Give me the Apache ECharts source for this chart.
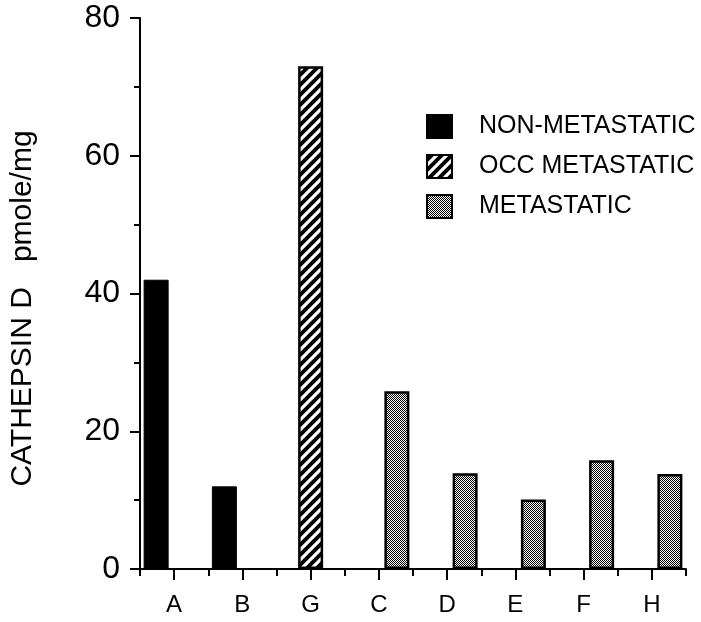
<!DOCTYPE html>
<html>
<head>
<meta charset="utf-8">
<script src="https://cdn.jsdelivr.net/npm/echarts@6/dist/echarts.min.js"></script>
<style>
html,body{margin:0;padding:0;background:#fff;}
#chart{width:701px;height:622px;}
</style>
</head>
<body>
<div id="chart"></div>
<script>
var categories = ['A', 'B', 'G', 'C', 'D', 'E', 'F', 'H'];
var nonMetastatic = [42, 12, null, null, null, null, null, null];
var occMetastatic = [null, null, 73, null, null, null, null, null];
var metastatic = [null, null, null, 25.8, 13.9, 10.1, 15.8, 13.8];
var yTicks = [0, 20, 40, 60, 80];
var seriesNames = ['NON-METASTATIC', 'OCC METASTATIC', 'METASTATIC'];
var yTitle = 'CATHEPSIN D   pmole/mg';

function hatchPattern() {
  var c = document.createElement('canvas');
  c.width = 10; c.height = 10;
  var g = c.getContext('2d');
  g.fillStyle = '#000'; g.fillRect(0, 0, 10, 10);
  g.strokeStyle = '#fff'; g.lineWidth = 3.2;
  g.beginPath();
  g.moveTo(-1, 11); g.lineTo(11, -1);
  g.moveTo(-6, 6); g.lineTo(6, -6);
  g.moveTo(4, 16); g.lineTo(16, 4);
  g.stroke();
  return c;
}
function stipplePattern() {
  var c = document.createElement('canvas');
  c.width = 6; c.height = 6;
  var g = c.getContext('2d');
  g.fillStyle = '#fff'; g.fillRect(0, 0, 6, 6);
  g.fillStyle = '#000';
  for (var x = 0; x < 6; x++) {
    for (var y = 0; y < 6; y++) {
      if ((x + y) % 2 === 0 || (x - y + 6) % 6 === 0) g.fillRect(x, y, 1, 1);
    }
  }
  return c;
}

var FONT = 'Liberation Sans, Arial, Helvetica, sans-serif';
var chart = echarts.init(document.getElementById('chart'), null, {renderer: 'canvas'});
var hatch = {image: hatchPattern(), repeat: 'repeat'};
var stip = {image: stipplePattern(), repeat: 'repeat'};

var option = {
  backgroundColor: '#fff',
  animation: false,
  grid: {left: 138, right: 15, top: 18, bottom: 53, containLabel: false},
  legend: {
    orient: 'vertical',
    left: 426,
    top: 114,
    padding: 0,
    itemWidth: 25,
    itemHeight: 23,
    itemGap: 15,
    icon: 'rect',
    data: seriesNames,
    textStyle: {fontSize: 25, color: '#000', fontFamily: FONT, padding: [4, 0, 0, 22]}
  },
  xAxis: [
    {
      type: 'category',
      data: categories,
      position: 'bottom',
      axisLine: {show: true, lineStyle: {color: '#000', width: 2}},
      axisTick: {show: true, alignWithLabel: true, length: 11, lineStyle: {color: '#000', width: 2}},
      axisLabel: {show: true, color: '#000', fontSize: 24, fontFamily: FONT, margin: 24},
      splitLine: {show: false}
    },
    {
      type: 'category',
      data: categories,
      position: 'bottom',
      axisLine: {show: false},
      axisTick: {show: true, alignWithLabel: false, length: 7, lineStyle: {color: '#000', width: 2}},
      axisLabel: {show: false},
      splitLine: {show: false}
    }
  ],
  yAxis: {
    type: 'value',
    min: yTicks[0],
    max: yTicks[yTicks.length - 1],
    interval: 20,
    name: yTitle,
    nameLocation: 'middle',
    nameGap: 102,
    nameTextStyle: {fontSize: 30, color: '#000', fontFamily: FONT, padding: [0, 30, 0, 0]},
    axisLine: {show: true, lineStyle: {color: '#000', width: 2}},
    axisTick: {show: true, length: 10, lineStyle: {color: '#000', width: 2}},
    minorTick: {show: true, splitNumber: 2, length: 6, lineStyle: {color: '#000', width: 2}},
    axisLabel: {color: '#000', fontSize: 32, fontFamily: FONT, margin: 20},
    splitLine: {show: false}
  },
  series: [
    {
      name: seriesNames[0], type: 'bar', xAxisIndex: 0, data: nonMetastatic,
      barWidth: 25, barGap: '-28%',
      itemStyle: {color: '#000', borderColor: '#000', borderWidth: 1}
    },
    {
      name: seriesNames[1], type: 'bar', xAxisIndex: 0, data: occMetastatic,
      barWidth: 25, barGap: '-28%',
      itemStyle: {color: hatch, borderColor: '#000', borderWidth: 2.5}
    },
    {
      name: seriesNames[2], type: 'bar', xAxisIndex: 0, data: metastatic,
      barWidth: 25, barGap: '-28%',
      itemStyle: {color: stip, borderColor: '#000', borderWidth: 2.5}
    }
  ]
};
chart.setOption(option);
</script>
</body>
</html>
